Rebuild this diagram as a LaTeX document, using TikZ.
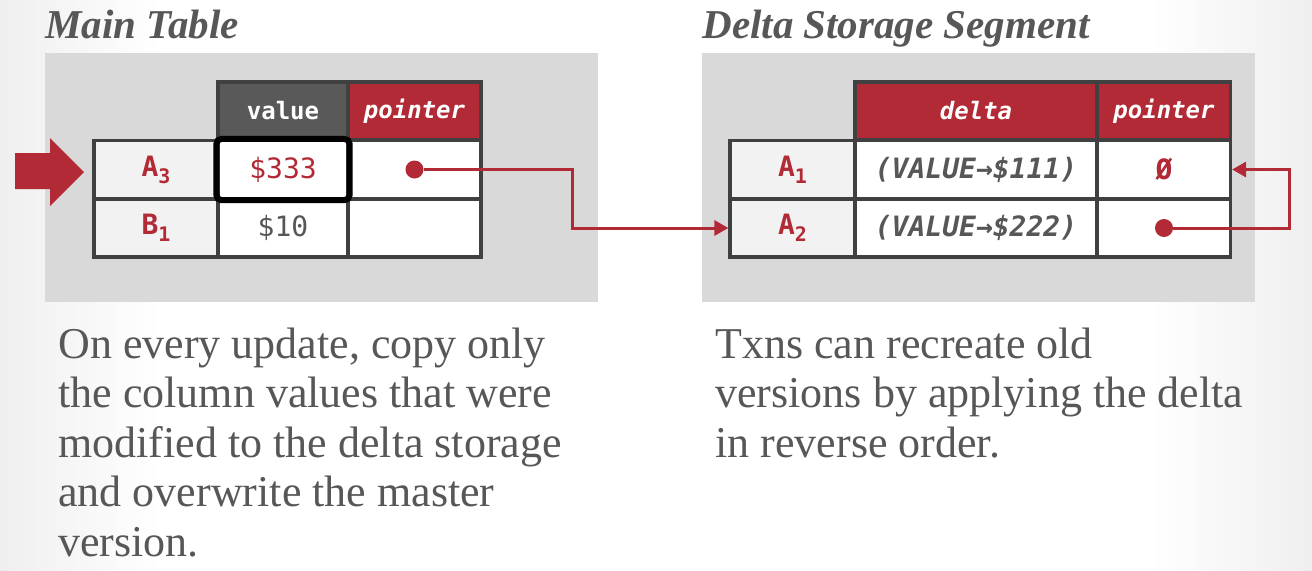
\documentclass[tikz,border=0pt]{standalone}
\usepackage{fontspec}
\setmainfont{Liberation Serif}
\setmonofont{DejaVu Sans Mono}
\usetikzlibrary{arrows.meta}
\definecolor{dbred}{HTML}{B22A35}
\definecolor{txtgray}{HTML}{575757}
\definecolor{rim}{HTML}{404040}
\definecolor{hdgray}{HTML}{595959}
\definecolor{panel}{HTML}{D9D9D9}
\definecolor{keyfill}{HTML}{F2F2F2}
\definecolor{edge}{HTML}{EFEFEF}
\newcommand{\lowsub}[1]{\raisebox{-0.45ex}{\fontsize{10}{10}\selectfont #1}}
\tikzset{
	cell/.style={draw=rim, line width=1.6pt, fill=white, minimum height=29pt, inner sep=0pt, text=txtgray, font=\ttfamily\fontsize{14}{16}\selectfont},
	keycell/.style={cell, fill=keyfill, text=dbred, font=\ttfamily\bfseries\fontsize{14}{16}\selectfont},
	headcell/.style={cell, text=white, font=\ttfamily\bfseries\fontsize{12}{14}\selectfont},
	dot/.style={circle, fill=dbred, minimum size=9pt, inner sep=0pt},
	link/.style={draw=dbred, line width=1.5pt, -{Triangle[length=7pt,width=7.5pt]}},
	title/.style={anchor=base west, inner sep=0pt, text=txtgray, font=\bfseries\itshape\fontsize{20.5}{24}\selectfont},
	note/.style={anchor=base west, inner sep=0pt, align=left, text=txtgray, font=\fontsize{22}{24.75}\selectfont}
}
\begin{document}
\begin{tikzpicture}[x=0.5pt,y=-0.5pt]
	\useasboundingbox (0,0) rectangle (1312,570);
	\fill[white] (0,0) rectangle (1312,570);
	\shade[left color=edge, right color=white] (0,0) rectangle (160,570);
	\shade[left color=white, right color=edge] (1150,0) rectangle (1312,570);
	\fill[panel] (45,53) rectangle (598,302);
	\fill[panel] (702,53) rectangle (1255,302);
	\node (ttlmain)  at (45,38)  [title] {Main Table};
	\node (ttldelta) at (702,38) [title] {Delta Storage Segment};

	\node (mHv)  at (283,111)   [headcell, fill=hdgray, minimum width=65pt]   {value};
	\node (mHp)  at (414.5,111) [headcell, fill=dbred, minimum width=66.5pt]  {\itshape pointer};
	\node (mA3)  at (156,169.5) [keycell, minimum width=62pt]                 {A\lowsub{3}};
	\node (mA3v) at (283,169.5) [cell, minimum width=65pt, text=dbred]        {\$333};
	\node (mA3p) at (414.5,169.5) [cell, minimum width=66.5pt]                {};
	\node (mB1)  at (156,228)   [keycell, minimum width=62pt]                 {B\lowsub{1}};
	\node (mB1v) at (283,228)   [cell, minimum width=65pt]                    {\$10};
	\node (mB1p) at (414.5,228) [cell, minimum width=66.5pt]                  {};
	\draw[black, line width=3pt, rounded corners=2.5pt] (mA3v.north west) rectangle (mA3v.south east);

	\node (dHd)  at (976,111)   [headcell, fill=dbred, minimum width=121pt]   {\itshape delta};
	\node (dHp)  at (1164,111)  [headcell, fill=dbred, minimum width=66.5pt]  {\itshape pointer};
	\node (dA1)  at (792.5,169.5) [keycell, minimum width=62.5pt]             {A\lowsub{1}};
	\node (dA1d) at (976,169.5) [cell, minimum width=121pt, font=\ttfamily\bfseries\itshape\fontsize{14}{16}\selectfont] {(VALUE→\$111)};
	\node (dA1p) at (1164,169.5) [cell, minimum width=66.5pt, text=dbred, font=\ttfamily\bfseries\fontsize{14}{16}\selectfont] {Ø};
	\node (dA2)  at (792.5,228) [keycell, minimum width=62.5pt]               {A\lowsub{2}};
	\node (dA2d) at (976,228)   [cell, minimum width=121pt, font=\ttfamily\bfseries\itshape\fontsize{14}{16}\selectfont] {(VALUE→\$222)};
	\node (dA2p) at (1164,228)  [cell, minimum width=66.5pt]                  {};

	\fill[dbred] (15,153) -- (50,153) -- (50,138) -- (84,172) -- (50,206) -- (50,189) -- (15,189) -- cycle;

	\node (mdot) at (mA3p) [dot] {};
	\node (ddot) at (dA2p) [dot] {};
	\coordinate (mbend) at (572,169.5);
	\coordinate (dbend) at (1289,228);
	\draw[link] (mdot) -- (mbend) |- (dA2.west);
	\draw[link] (ddot) -- (dbend) |- (dA1p.east);

	\node (notemain)  at (58,556)  [note] {On every update, copy only\\the column values that were\\modified to the delta storage\\and overwrite the master\\version.};
	\node (notedelta) at (715,457) [note] {Txns can recreate old\\versions by applying the delta\\in reverse order.};
\end{tikzpicture}
\end{document}
